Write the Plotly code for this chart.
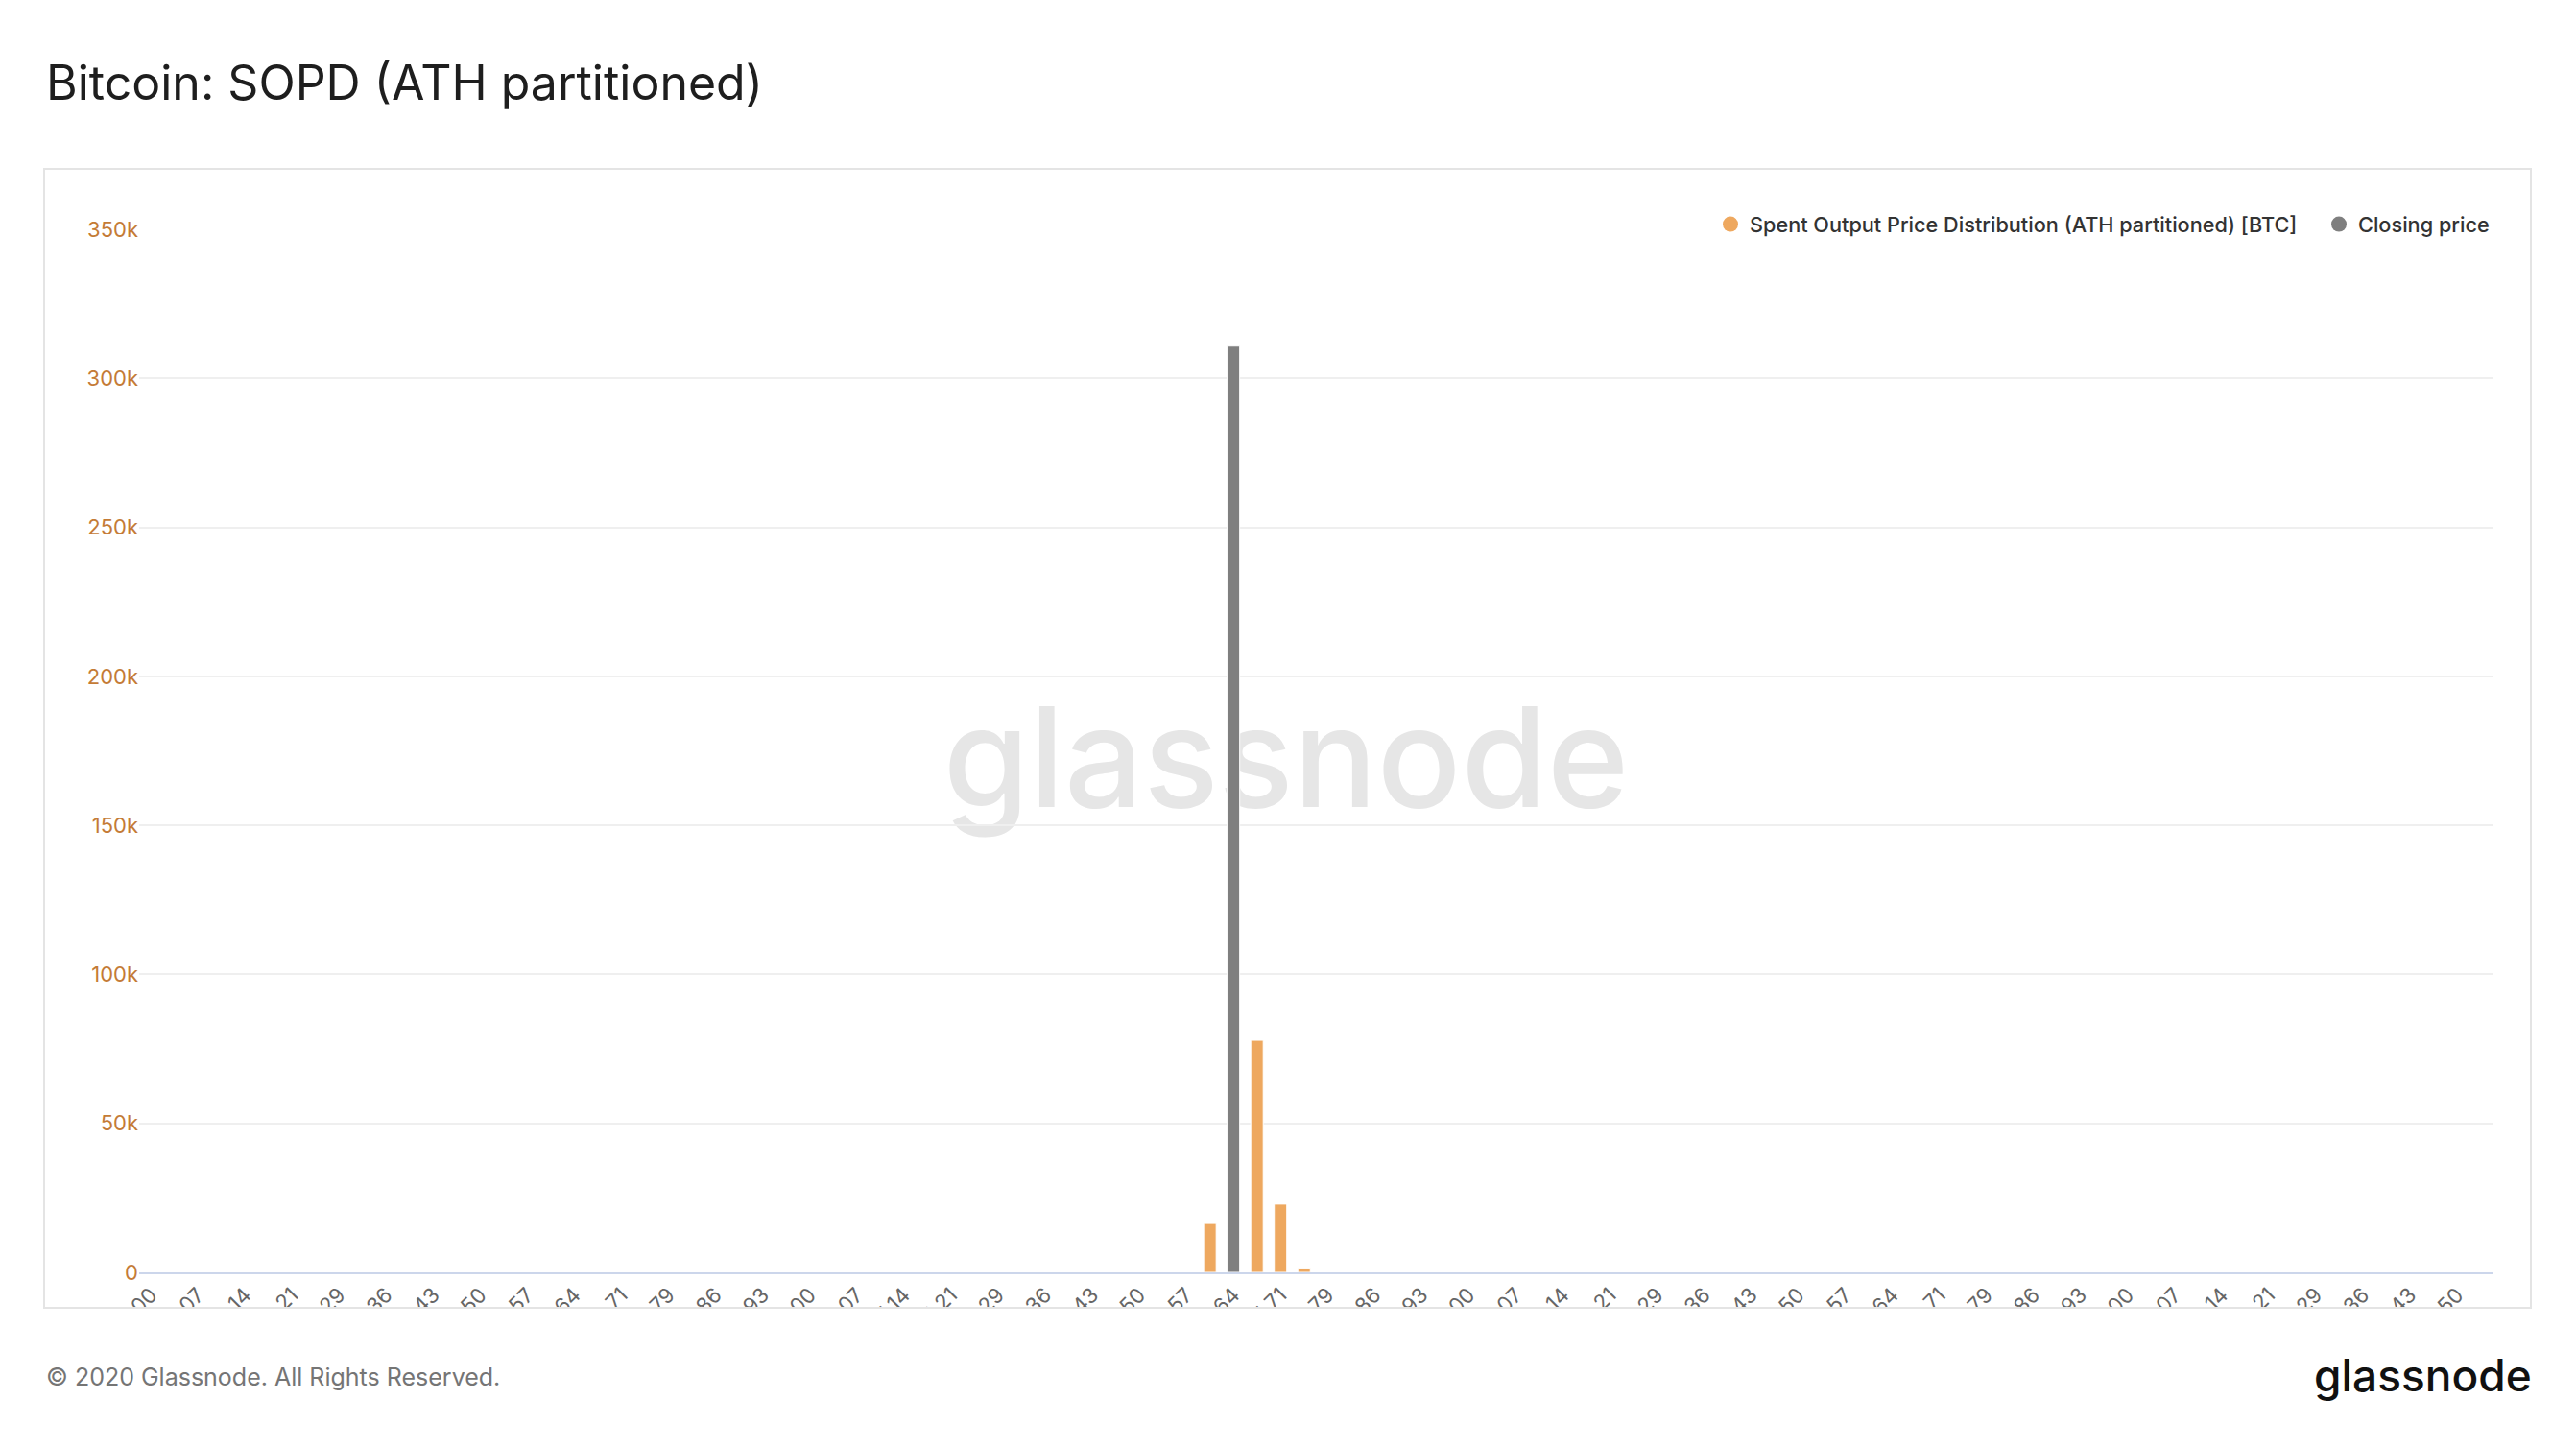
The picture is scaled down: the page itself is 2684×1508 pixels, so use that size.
import plotly.graph_objects as go

# ---------------- data ----------------
categories = [
    "0.00","0.04","0.07","0.11","0.14","0.18","0.21","0.25","0.29","0.32","0.36","0.39","0.43","0.46",
    "0.50","0.54","0.57","0.61","0.64","0.68","0.71","0.75","0.79","0.82","0.86","0.89","0.93","0.96",
    "1.00","1.04","1.07","1.11","1.14","1.18","1.21","1.25","1.29","1.32","1.36","1.39","1.43","1.46",
    "1.50","1.54","1.57","1.61","1.64","1.68","1.71","1.75","1.79","1.82","1.86","1.89","1.93","1.96",
    "2.00","2.04","2.07","2.11","2.14","2.18","2.21","2.25","2.29","2.32","2.36","2.39","2.43","2.46",
    "2.50","2.54","2.57","2.61","2.64","2.68","2.71","2.75","2.79","2.82","2.86","2.89","2.93","2.96",
    "3.00","3.04","3.07","3.11","3.14","3.18","3.21","3.25","3.29","3.32","3.36","3.39","3.43","3.46",
    "3.50","3.54",
]
tick_labels = categories[::2]

sopd_x = ["1.61", "1.68", "1.71", "1.75"]
sopd_y = [16400, 77900, 22900, 1400]

close_x = ["1.64"]
close_y = [310800]

y_tickvals = [0, 50000, 100000, 150000, 200000, 250000, 300000, 350000]
y_ticktext = ["0", "50k", "100k", "150k", "200k", "250k", "300k", "350k"]

# ---------------- layout geometry (screen pixels of the reference) ----------------
OFF = 8                      # default page body margin
W, H = 2684 - 2 * OFF, 1508 - 2 * OFF
PL, PR, PT, PB = 145, 2597, 239, 1326
PW, PH = PR - PL, PB - PT


def px_x(p):
    return (p - PL) / PW


def px_y(p):
    return (PB - p) / PH


ORANGE = "#EEA85F"
GREY = "#7F7F7F"
FONT = "Inter"
SOPD_NAME = "Spent Output Price Distribution (ATH partitioned) [BTC]"
CLOSE_NAME = "Closing price"

fig = go.Figure()

fig.add_trace(go.Bar(
    x=sopd_x, y=sopd_y, name=SOPD_NAME,
    marker=dict(color=ORANGE, line=dict(color="#FFFFFF", width=1)),
    showlegend=False, hoverinfo="x+y",
))
fig.add_trace(go.Bar(
    x=close_x, y=close_y, name=CLOSE_NAME,
    marker=dict(color=GREY, line=dict(color="#FFFFFF", width=1)),
    showlegend=False, hoverinfo="x+y",
))
# legend entries with round symbols
fig.add_trace(go.Scatter(
    x=[None], y=[None], mode="markers", name=SOPD_NAME, legend="legend",
    marker=dict(color=ORANGE, size=16, symbol="circle"),
))
fig.add_trace(go.Scatter(
    x=[None], y=[None], mode="markers", name=CLOSE_NAME, legend="legend2",
    marker=dict(color=GREY, size=16, symbol="circle"),
))

legend_style = dict(
    orientation="h", xanchor="left", y=px_y(234), yanchor="middle",
    font=dict(family=FONT, size=21.7, color="#333333", weight=500),
    bgcolor="rgba(0,0,0,0)", itemclick=False, itemdoubleclick=False,
)

fig.update_layout(
    width=W, height=H,
    margin=dict(l=PL - OFF, r=W - (PR - OFF), t=PT - OFF, b=H - (PB - OFF), autoexpand=False),
    paper_bgcolor="#FFFFFF", plot_bgcolor="#FFFFFF",
    barmode="overlay", bargap=0.47,
    font=dict(family=FONT, color="#333333"),
    title=dict(
        text="Bitcoin: SOPD (ATH partitioned)",
        x=(48 - OFF) / W, xanchor="left", xref="container",
        y=1 - (86 - OFF) / H, yanchor="middle", yref="container",
        font=dict(family=FONT, size=50, color="#1E1E1E"),
    ),
    legend=dict(x=px_x(1783), **legend_style),
    legend2=dict(x=px_x(2417), **legend_style),
    xaxis=dict(
        type="category", categoryorder="array", categoryarray=categories,
        range=[-0.5, len(categories) - 0.5],
        tickmode="array", tickvals=tick_labels, ticktext=tick_labels,
        tickangle=-45, tickfont=dict(family=FONT, size=22, color="#666666"),
        showgrid=False, showline=True, linecolor="#CCD6EB", linewidth=2,
        ticks="", zeroline=False, automargin=False, fixedrange=True,
    ),
    yaxis=dict(
        range=[0, 350000], tickmode="array", tickvals=y_tickvals, ticktext=y_ticktext,
        tickfont=dict(family=FONT, size=22, color="#C47B36"),
        showgrid=True, gridcolor="#EFEFEF", gridwidth=1.5,
        zeroline=False, showline=False, ticks="", automargin=False, fixedrange=True,
    ),
    shapes=[
        # watermark (below the bars)
        dict(type="rect", xref="paper", yref="paper",
             x0=px_x(900), x1=px_x(1780), y0=px_y(868), y1=px_y(698),
             line=dict(width=0), fillcolor="rgba(0,0,0,0)", layer="below",
             label=dict(text="glassnode", textposition="middle center",
                        font=dict(family=FONT, size=145, color="#E6E6E6", weight=500))),
        # mask clipping the x tick labels at the chart frame
        dict(type="rect", xref="paper", yref="paper",
             x0=px_x(0), x1=px_x(2684), y0=px_y(1508), y1=px_y(1364),
             line=dict(width=0), fillcolor="#FFFFFF", layer="above"),
        # chart frame
        dict(type="rect", xref="paper", yref="paper",
             x0=px_x(46), x1=px_x(2637), y0=px_y(1363), y1=px_y(176),
             line=dict(color="#E4E4E4", width=2), fillcolor="rgba(0,0,0,0)", layer="above"),
    ],
    annotations=[
        dict(text="© 2020 Glassnode. All Rights Reserved.", xref="paper", yref="paper",
             x=px_x(46), xanchor="left", y=px_y(1435), yanchor="middle", showarrow=False,
             font=dict(family=FONT, size=25, color="#757575")),
        dict(text="glassnode", xref="paper", yref="paper",
             x=px_x(2640), xanchor="right", y=px_y(1433), yanchor="middle", showarrow=False,
             font=dict(family=FONT, size=46, color="#111111", weight=500)),
    ],
)

fig.write_html("out.html")
